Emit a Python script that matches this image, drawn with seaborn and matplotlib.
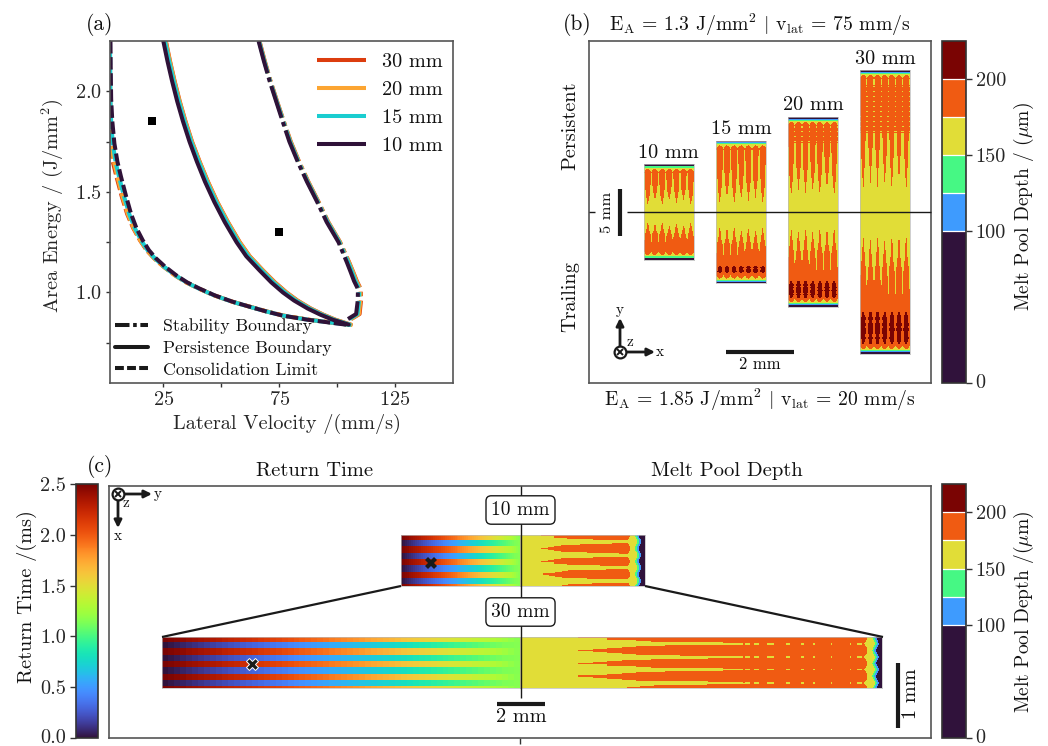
import numpy as np
import matplotlib
matplotlib.use('Agg')
import matplotlib.pyplot as plt
from matplotlib.cm import ScalarMappable
from matplotlib.colors import BoundaryNorm, ListedColormap, Normalize
from matplotlib.lines import Line2D
import seaborn as sns

# ---- panel (a) values ----
track_labels = ['30 mm', '20 mm', '15 mm', '10 mm']
track_colors = ['#dc3d0e', '#fca532', '#1acdd0', '#2f1238']

persist_y = [2.25, 2.15, 2.05, 1.95, 1.85, 1.75, 1.65, 1.55, 1.45, 1.35, 1.25, 1.18, 1.11, 1.05, 1.0, 0.96, 0.92, 0.89, 0.865, 0.84]
persist_x_10 = [25.0, 26.8, 28.8, 31.0, 33.5, 36.3, 39.5, 43.0, 47.0, 51.5, 56.6, 60.8, 66.5, 71.6, 76.6, 81.4, 87.3, 92.7, 98.0, 105.0]
persist_x_15 = [25.7, 27.5, 29.5, 31.7, 34.2, 37.0, 40.3, 43.8, 47.8, 52.4, 57.4, 61.7, 67.4, 72.5, 77.5, 82.2, 88.1, 93.4, 98.6, 105.4]
persist_x_20 = [26.0, 27.8, 29.8, 32.0, 34.5, 37.3, 40.6, 44.2, 48.2, 52.8, 57.9, 62.2, 67.9, 73.0, 78.0, 82.7, 88.5, 93.8, 99.0, 105.7]
persist_x_30 = [26.1, 27.9, 29.9, 32.1, 34.6, 37.4, 40.7, 44.3, 48.3, 52.9, 58.0, 62.3, 68.0, 73.2, 78.2, 82.9, 88.7, 94.0, 99.2, 105.9]

stable_y = [2.25, 2.15, 2.05, 1.95, 1.85, 1.75, 1.65, 1.55, 1.45, 1.35, 1.25, 1.15, 1.10, 1.057, 1.017, 0.96, 0.893, 0.868]
stable_x_10 = [66.1, 68.4, 70.9, 73.7, 76.5, 79.4, 83.0, 87.0, 91.4, 95.5, 100.6, 104.2, 105.9, 107.3, 109.0, 108.9, 108.2, 104.7]
stable_x_15 = [66.3, 68.6, 71.1, 73.9, 76.8, 79.7, 83.3, 87.3, 91.7, 95.9, 101.0, 104.8, 106.5, 107.9, 109.6, 109.5, 108.8, 105.4]
stable_x_20 = [66.4, 68.7, 71.2, 74.0, 76.9, 79.9, 83.5, 87.5, 91.9, 96.1, 101.2, 105.1, 106.9, 108.3, 110.0, 110.0, 109.4, 105.9]
stable_x_30 = [66.5, 68.8, 71.3, 74.1, 77.0, 80.0, 83.6, 87.6, 92.0, 96.2, 101.3, 105.2, 107.0, 108.5, 110.2, 110.3, 109.7, 106.1]

consol_y = [2.25, 2.12, 1.96, 1.85, 1.74, 1.65, 1.575, 1.48, 1.39, 1.32, 1.26, 1.21, 1.17, 1.13, 1.086, 1.05, 1.02, 0.985, 0.954, 0.93, 0.906, 0.885, 0.865, 0.838]
consol_x_10 = [2.2, 2.3, 2.5, 3.0, 3.9, 5.2, 6.75, 8.9, 11.1, 13.4, 16.1, 18.8, 21.8, 25.6, 30.5, 35.3, 40.5, 47.3, 54.9, 62.0, 69.3, 76.5, 87.0, 105.2]
consol_x_15 = [2.0, 2.1, 2.2, 2.5, 3.2, 4.4, 5.9, 8.0, 10.3, 12.7, 15.4, 18.2, 21.3, 25.1, 30.1, 35.0, 40.2, 47.1, 54.7, 61.9, 69.3, 76.6, 87.2, 106.0]
consol_x_20 = [1.9, 2.0, 2.1, 2.2, 2.6, 3.7, 5.2, 7.3, 9.7, 12.2, 15.0, 17.9, 21.0, 24.9, 29.9, 34.9, 40.2, 47.1, 54.8, 62.1, 69.5, 76.9, 87.5, 106.8]
consol_x_30 = [1.9, 2.0, 2.0, 2.1, 2.2, 3.2, 4.8, 7.0, 9.4, 12.0, 14.9, 17.8, 21.0, 24.9, 29.9, 34.9, 40.2, 47.1, 54.8, 62.1, 69.5, 76.9, 87.4, 106.5]

case_x = [20, 75]
case_y = [1.85, 1.3]

# ---- melt pool maps, mm from the track centre ----
lengths_b = [10, 15, 20, 30]
upper_tips = [0.85, 1.1, 2.0, 2.7]
lower_tips = [1.2, 1.75, 1.9, 2.8]
lower_merge = [3.15, 4.6, 6.2, 8.7]
dark_start = [99.0, 5.8, 7.4, 10.6]
dark_end = [99.0, 6.5, 9.2, 14.1]
dot_start = [99.0, 99.0, 7.4, 8.4]
dot_end = [99.0, 99.0, 9.0, 13.5]
tip_stagger = [0.0, 0.35, 0.0, 0.5, 0.1, 0.4, 0.0]
upper_widths = [.06, .12, .2, .26, .3, .34, .36, .38, .4, .41, .42, .42]
lower_widths = [.08, .1, .14, .18, .22, .26, .36, .38, .4, .44, .46, .47]
dark_widths = [.16, .24, .32, .26, .36, .3, .38, .32, .26, .34, .24, .16]

# return time along a track, from its end to the centre (ms)
hot_stripe = [2.5, 2.48, 2.46, 2.44, 2.41, 2.39, 2.37, 2.35, 2.33, 2.31, 2.28, 2.26, 2.24, 2.22, 2.2, 2.18, 2.15, 2.13, 2.11, 2.09,
              2.07, 2.05, 2.02, 2.0, 1.98, 1.96, 1.94, 1.92, 1.89, 1.87, 1.85, 1.83, 1.81, 1.79, 1.76, 1.74, 1.72, 1.7, 1.68, 1.66,
              1.63, 1.61, 1.59, 1.57, 1.55, 1.53, 1.5, 1.48, 1.46, 1.44, 1.42, 1.4, 1.37, 1.35, 1.33, 1.3, 1.27, 1.24, 1.2, 1.17]
cold_stripe = [0.0, 0.02, 0.04, 0.06, 0.08, 0.1, 0.12, 0.14, 0.16, 0.18, 0.2, 0.22, 0.24, 0.26, 0.28, 0.3, 0.32, 0.34, 0.36, 0.38,
               0.4, 0.42, 0.44, 0.46, 0.48, 0.5, 0.52, 0.54, 0.56, 0.58, 0.6, 0.62, 0.64, 0.66, 0.68, 0.7, 0.72, 0.74, 0.76, 0.78,
               0.8, 0.82, 0.84, 0.86, 0.88, 0.9, 0.92, 0.94, 0.96, 0.98, 1.0, 1.02, 1.04, 1.06, 1.08, 1.1, 1.12, 1.14, 1.15, 1.16]
stripe_rows = [3, 4, 4, 4, 4, 4, 4, 4, 1]

# melt pool tongues in panel (c), fraction of half a track
tongue_centres = [0.0, 0.258, 0.516, 0.774, 1.032]
tongue_starts_10 = [.17, .17, .17, .18, .24]
tongue_starts_30 = [.16, .16, .16, .16, .22]
tongue_widths_10 = [.06, .1, .2, .25, .28, .28, .3, .32, .34, .35, .36, .37, .38, .38, .38, .38]
tongue_widths_30 = [.06, .1, .2, .26, .32, .35, .37, .38, .39, .4, .44, .5, .5, .5, .5, .5, .5, .5, .5, .5, .5]
gap_dashes_30 = [(.60, .615), (.62, .635), (.645, .66), (.683, .70), (.733, .745), (.775, .785), (.81, .815), (.858, .862), (.91, .915), (.93, .945)]

depth_levels = [0, 100, 125, 150, 175, 200, 225]
depth_ticks = [0, 100, 150, 200]
PURPLE, BLUE, GREEN, YELLOW, ORANGE, DARK = range(6)

W, H = 1048, 746
sns.set_theme(style='white')
plt.rcParams['font.family'] = ['cmr10', 'DejaVu Sans']
plt.rcParams['mathtext.fontset'] = 'cm'
plt.rcParams['axes.formatter.use_mathtext'] = True
plt.rcParams['axes.unicode_minus'] = False
plt.rcParams['axes.edgecolor'] = '#555555'
plt.rcParams['axes.linewidth'] = 1.2
plt.rcParams['text.color'] = '#111111'
FS = 14.6

depth_cmap = ListedColormap(plt.get_cmap('turbo')(np.linspace(0, 1, 6)))
depth_norm = BoundaryNorm(depth_levels, 6)
DASHDOT = (0, (8.3, 1.1, 1.1, 1.1))


def end_bands(grid, e, d):
    # temperature rim at the free end of a track
    near = e < 0.95
    grid[near & (grid == ORANGE)] = YELLOW
    grid[near & (e > 0.5 + 1.4 * d**2)] = ORANGE
    grid[e < 0.5] = YELLOW
    grid[e < 0.36] = GREEN
    grid[e < 0.24] = BLUE
    grid[e < 0.14] = PURPLE
    return grid


def map_b(i):
    length = lengths_b[i]
    half = length / 2 + 0.1
    nrows = int(length * 19)
    y = (np.arange(nrows) + 0.5) / nrows * 2 * half - half
    p = (np.arange(100) + 0.5) / 100 * 7
    yy, pp = np.meshgrid(y, p, indexing='ij')
    dd = np.abs(pp - pp.astype(int) - 0.5)
    stag = np.array(tip_stagger)[pp.astype(int)]
    grid = np.full(yy.shape, YELLOW)

    # persistent side, fingers grow from the tip to the track end
    tip = upper_tips[i] + stag
    s = (-yy - tip) / (half - 0.7 - tip)
    idx = np.clip((s * len(upper_widths)).astype(int), 0, len(upper_widths) - 1)
    grid[(s >= 0) & (dd < np.array(upper_widths)[idx])] = ORANGE
    dots = (-yy > dot_start[i]) & (-yy < dot_end[i])
    row = ((yy * 9.4).astype(int) % 5) != 0
    grid[dots & row] = ORANGE

    # trailing side
    tip = lower_tips[i] + stag * 0.6
    s = (yy - tip) / (lower_merge[i] - tip)
    idx = np.clip((s * len(lower_widths)).astype(int), 0, len(lower_widths) - 1)
    grid[(s >= 0) & (dd < np.array(lower_widths)[idx])] = ORANGE
    grid[s >= 1] = ORANGE
    s = (yy - dark_start[i]) / (dark_end[i] - dark_start[i])
    idx = np.clip((s * len(dark_widths)).astype(int), 0, len(dark_widths) - 1)
    grid[(s >= 0) & (s < 1) & (dd < np.array(dark_widths)[idx])] = DARK

    e = half - np.abs(yy)
    return end_bands(grid, e, dd)


def map_depth_c(half, starts, widths, dashes):
    ncols = int(half * 24 * 2)
    t = (np.arange(ncols) + 0.5) / ncols
    v = (np.arange(52) + 0.5) / 52
    vv, tt = np.meshgrid(v, t, indexing='ij')
    grid = np.full(vv.shape, YELLOW)
    centres = np.array(tongue_centres)
    which = np.abs(vv[..., None] - centres).argmin(axis=-1)
    dd = np.abs(vv - centres[which]) / 0.258
    start = np.array(starts)[which]
    s = (tt - start) / (1 - start)
    idx = np.clip((s * len(widths)).astype(int), 0, len(widths) - 1)
    grid[(s >= 0) & (dd < np.array(widths)[idx])] = ORANGE
    for a, b in dashes:
        grid[(tt > a) & (tt < b) & (dd > 0.44)] = YELLOW
    e = (1 - tt) * half
    grid[e < 0.62 + 0.6 * dd**2] = YELLOW
    wave = 0.05 * np.cos(dd * 2 * np.pi)
    grid[e < 0.36 + wave] = GREEN
    grid[e < 0.28 + wave] = BLUE
    grid[e < 0.2 + wave] = PURPLE
    return grid


def map_return():
    rows = []
    for k, n in enumerate(stripe_rows):
        stripe = hot_stripe if k % 2 == 0 else cold_stripe
        rows += [stripe] * n
    return np.array(rows)


def axes_px(left, top, right, bottom, **kws):
    return fig.add_axes([left / W, 1 - bottom / H, (right - left) / W, (bottom - top) / H], **kws)


def draw_cells(parent, box, grid, cmap, vmin, vmax):
    inset = parent.inset_axes(box, transform=parent.transData)
    sns.heatmap(grid, ax=inset, cmap=cmap, vmin=vmin, vmax=vmax, cbar=False,
                xticklabels=False, yticklabels=False)
    for sp in inset.spines.values():
        sp.set_visible(True)
        sp.set_color('#bbbbbb')
        sp.set_linewidth(0.5)
    inset.tick_params(length=0)
    return inset


def depth_colorbar(cax):
    cb = fig.colorbar(ScalarMappable(norm=depth_norm, cmap=depth_cmap), cax=cax,
                      spacing='proportional', drawedges=True, ticks=depth_ticks)
    cb.dividers.set_color('#ffffff')
    cb.dividers.set_linewidth(0.9)
    cb.outline.set_edgecolor('#333333')
    cb.ax.set_yticklabels([str(t) for t in depth_ticks])
    cb.ax.tick_params(labelsize=FS, length=4, width=1, pad=3, color='#333333')
    cb.ax.minorticks_off()
    cb.ax.get_yticklabels()[0].set_va('center')
    return cb


fig = plt.figure(figsize=(W / 100, H / 100), dpi=100)

# ---- (a) ----
ax_a = axes_px(110, 41, 453, 383)
series = [
    (persist_x_30, stable_x_30, consol_x_30, 1.9),
    (persist_x_20, stable_x_20, consol_x_20, 1.9),
    (persist_x_15, stable_x_15, consol_x_15, 1.2),
    (persist_x_10, stable_x_10, consol_x_10, 0.0),
]
for (px, sx, cx, off), col in zip(series, track_colors):
    sns.lineplot(x=px, y=persist_y, ax=ax_a, color=col, lw=2.9, sort=False, estimator=None)
    sns.lineplot(x=sx, y=stable_y, ax=ax_a, color=col, lw=2.9, sort=False, estimator=None, linestyle=DASHDOT)
    sns.lineplot(x=cx, y=consol_y, ax=ax_a, color=col, lw=2.9, sort=False, estimator=None,
                 linestyle=(off, (3.1, 0.9)))
sns.scatterplot(x=case_x, y=case_y, ax=ax_a, marker='s', color='black', s=36, linewidth=0, zorder=5)
ax_a.set_xlim(2, 150)
ax_a.set_ylim(0.55, 2.25)
ax_a.set_xticks([25, 75, 125])
ax_a.set_xticks([50, 100], minor=True)
ax_a.set_yticks([1.0, 1.5, 2.0])
ax_a.set_yticks([0.75, 1.25, 1.75], minor=True)
ax_a.tick_params(which='both', labelsize=FS, bottom=True, left=True, length=3, width=1, pad=3, color='#333333')
ax_a.set_xlabel('Lateral Velocity /(mm/s)', fontsize=FS)
ax_a.xaxis.set_label_coords(0.515, -0.09)
ax_a.set_ylabel('Area Energy / (J/mm$^2$)', fontsize=FS)
ax_a.yaxis.set_label_coords(-0.13, 0.52)

hs = [Line2D([], [], color=c, lw=2.9, solid_capstyle='butt') for c in track_colors]
leg1 = ax_a.legend(hs, track_labels, loc='upper right', frameon=False, fontsize=FS,
                   handlelength=2.4, labelspacing=0.48, handletextpad=0.8,
                   bbox_to_anchor=(1.0, 0.995), borderaxespad=0.2, borderpad=0.3)
ax_a.add_artist(leg1)
hs = [Line2D([], [], color='k', lw=2.9, ls=(0, (3.6, 0.9, 0.9, 0.9))),
      Line2D([], [], color='k', lw=2.9),
      Line2D([], [], color='k', lw=2.9, ls=(0, (2.2, 0.8)))]
ax_a.legend(hs, ['Stability Boundary', 'Persistence Boundary', 'Consolidation Limit'],
            loc='lower left', frameon=False, fontsize=12.8, handlelength=1.85, labelspacing=0.34,
            handletextpad=0.84, borderaxespad=0.2, borderpad=0.1)

# ---- (b) ----
ax_b = axes_px(589, 41, 931, 383)
ax_b.set_xlim(0, 342 / 34)
ax_b.set_ylim(-171 / 9.4, 171 / 9.4)
ax_b.set_xticks([])
ax_b.set_yticks([])
track_left = [1.62, 3.74, 5.85, 7.97]
for i, length in enumerate(lengths_b):
    half = length / 2 + 0.1
    draw_cells(ax_b, [track_left[i], -half, 1.47, 2 * half], map_b(i), depth_cmap, -0.5, 5.5)

cax = axes_px(942, 41, 966, 383)
depth_colorbar(cax)

# ---- (c) ----
ax_c = axes_px(109, 486, 931, 738)
ax_c.set_xlim(-411 / 24, 411 / 24)
ax_c.set_ylim(0, 252 / 49)
ax_c.set_xticks([0])
ax_c.set_xticklabels([''])
ax_c.set_yticks([])
ax_c.tick_params(bottom=True, length=4, width=1, color='#333333')

for half_l, half_r, y0, starts, widths, dashes in [
    (4.96, 5.2, (738 - 586) / 49, tongue_starts_10, tongue_widths_10, []),
    (14.9, 15.1, (738 - 688) / 49, tongue_starts_30, tongue_widths_30, gap_dashes_30),
]:
    draw_cells(ax_c, [-half_l, y0, half_l, 51 / 49], map_return(), 'turbo', 0, 2.5)
    draw_cells(ax_c, [0, y0, half_r, 51 / 49], map_depth_c(half_r, starts, widths, dashes),
               depth_cmap, -0.5, 5.5)

cax = axes_px(942, 484, 966, 738)
depth_colorbar(cax)

cax = axes_px(76, 484, 98, 738)
cb = fig.colorbar(ScalarMappable(norm=Normalize(0, 2.5), cmap='turbo'), cax=cax, ticks=[0, .5, 1, 1.5, 2, 2.5])
cb.ax.yaxis.set_ticks_position('left')
cb.ax.set_yticklabels(['0.0', '0.5', '1.0', '1.5', '2.0', '2.5'])
cb.ax.tick_params(labelsize=FS, length=4, width=1, pad=3, color='#333333')
cb.outline.set_edgecolor('#333333')
cb.ax.get_yticklabels()[0].set_va('center')

# ---- notes drawn in figure pixels ----
note = fig.add_axes([0, 0, 1, 1], zorder=10)
note.set_xlim(0, W)
note.set_ylim(H, 0)
note.axis('off')


def put(x, y, s, size=FS, rot=0, **kws):
    note.text(x, y, s, fontsize=size, rotation=rot, ha='center', va='center', **kws)


def bar(x0, y0, x1, y1, lw=3, color='k'):
    note.plot([x0, x1], [y0, y1], color=color, lw=lw, solid_capstyle='butt')


def arrow(x0, y0, x1, y1):
    note.annotate('', xy=(x1, y1), xytext=(x0, y0),
                  arrowprops=dict(arrowstyle='-|>', lw=2, color='k', shrinkA=0, shrinkB=0, mutation_scale=11))


def triad(x, y):
    note.plot([x], [y], marker='o', ms=8.5, mfc='white', mec='k', mew=1.6, zorder=6)
    note.plot([x], [y], marker='x', ms=5, mec='k', mew=1.4, zorder=7)


put(100, 25, '(a)', 15.5)
put(577, 25, '(b)', 15.5)
put(100, 466, '(c)', 15.5)

put(760, 25, r'$\mathrm{E_A}$ = 1.3 J/mm$^2$ $|$ v$_{\mathrm{lat}}$ = 75 mm/s', 14.2)
put(760, 400, r'$\mathrm{E_A}$ = 1.85 J/mm$^2$ $|$ v$_{\mathrm{lat}}$ = 20 mm/s', 14.2)
put(570, 126, 'Persistent', FS, 90)
put(570, 297, 'Trailing', FS, 90)
put(668, 153, '10 mm', FS)
put(741, 129, '15 mm', FS)
put(813, 105, '20 mm', FS)
put(885, 59, '30 mm', FS)

bar(627, 212, 931, 212, 1)
bar(589, 212, 595, 212, 1)
bar(620, 189, 620, 236, 3)
put(607, 212, '5 mm', 11.8, 90)
bar(726, 352, 794, 352, 3)
put(760, 364, '2 mm', 12)
arrow(620, 352, 620, 318)
arrow(620, 352, 655, 352)
triad(620, 352)
put(620, 310, 'y', 11)
put(660, 352, 'x', 11)
put(630, 342, 'z', 11)

put(1024, 207, r'Melt Pool Depth / ($\mu$m)', 14, 90)
put(1024, 612, r'Melt Pool Depth /($\mu$m)', 14, 90)
put(27, 597, 'Return Time /(ms)', FS, 90)

put(315, 471, 'Return Time', 14.8)
put(727, 471, 'Melt Pool Depth', 14.8)
bar(520.5, 486, 520.5, 698, 1)
box = dict(boxstyle='round,pad=0.27', fc='white', ec='k', lw=1)
put(520.5, 510, '10 mm', 14, bbox=box)
put(520.5, 612, '30 mm', 14, bbox=box)
bar(401, 586, 162, 637, 1.6)
bar(645, 586, 883, 637, 1.6)
note.plot([431], [563], marker='X', ms=8.5, mfc='k', mec='k', mew=0)
note.plot([252], [664], marker='X', ms=9, mfc='k', mec='white', mew=0.7)
bar(497, 704, 545, 704, 3)
put(521, 717, '2 mm', FS)
bar(898, 663, 898, 728, 3)
put(911, 694, '1 mm', FS, 90)
arrow(118, 494, 152, 494)
arrow(118, 494, 118, 528)
triad(118, 494)
put(158, 494, 'y', 11)
put(118, 536, 'x', 11)
put(126, 503, 'z', 11)

fig.savefig('out.png', dpi=100)
